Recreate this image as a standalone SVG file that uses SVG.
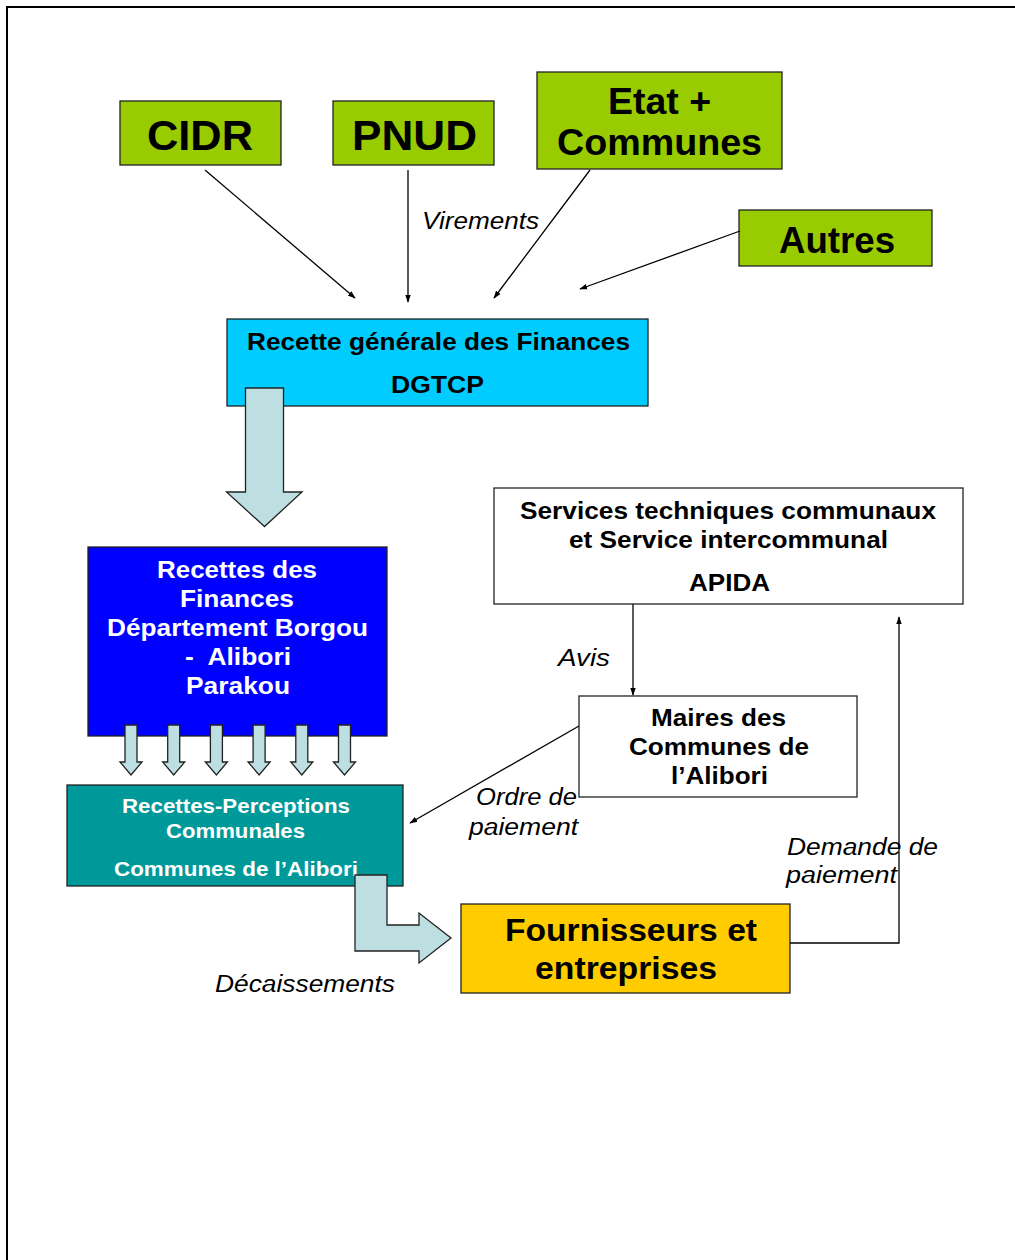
<svg xmlns="http://www.w3.org/2000/svg" width="1015" height="1260" viewBox="0 0 1015 1260">
<defs>
<style>
text{font-family:"Liberation Sans",Arial,sans-serif;}
.b{font-weight:bold;text-anchor:middle;fill:#000;}
.w{font-weight:bold;text-anchor:middle;fill:#fff;}
.lbl{font-style:italic;font-size:23px;fill:#000;}
.box{stroke:#222;stroke-width:1.3;}
.green{fill:#99CC00;}
.con{stroke:#000;stroke-width:1.3;fill:none;}
.blk{fill:#BDDFE1;stroke:#222;stroke-width:1.3;stroke-linejoin:miter;}
</style>
<marker id="ah" viewBox="0 0 10 10" refX="9" refY="5" markerWidth="8" markerHeight="8" markerUnits="userSpaceOnUse" orient="auto">
<path d="M0,1.5 L10,5 L0,8.5 Z" fill="#000"/>
</marker>
</defs>
<rect width="1015" height="1260" fill="#fff"/>
<path d="M7,1260 L7,7 L1015,7" fill="none" stroke="#000" stroke-width="2"/>

<g id="cidr"><rect class="box green" x="120" y="101" width="161" height="64"/><text class="b" x="200" y="150" font-size="42" textLength="106" lengthAdjust="spacingAndGlyphs">CIDR</text></g>
<g id="pnud"><rect class="box green" x="333" y="101" width="161" height="64"/><text class="b" x="414.5" y="150" font-size="42" textLength="125" lengthAdjust="spacingAndGlyphs">PNUD</text></g>
<g id="etat"><rect class="box green" x="537" y="72" width="245" height="97"/><text class="b" x="659.5" y="114" font-size="36" textLength="103" lengthAdjust="spacingAndGlyphs">Etat +</text><text class="b" x="659.5" y="155" font-size="36" textLength="205" lengthAdjust="spacingAndGlyphs">Communes</text></g>
<g id="autres"><rect class="box green" x="739" y="210" width="193" height="56"/><text class="b" x="837" y="253" font-size="36" textLength="116" lengthAdjust="spacingAndGlyphs">Autres</text></g>

<g id="recette"><rect class="box" x="227" y="319" width="421" height="87" fill="#00CCFF"/><text class="b" x="438.5" y="350" font-size="23" textLength="383" lengthAdjust="spacingAndGlyphs">Recette générale des Finances</text><text class="b" x="437.5" y="393" font-size="23" textLength="93" lengthAdjust="spacingAndGlyphs">DGTCP</text></g>

<g id="services"><rect class="box" x="494" y="488" width="469" height="116" fill="#fff"/><text class="b" x="728" y="519" font-size="23" textLength="416" lengthAdjust="spacingAndGlyphs">Services techniques communaux</text><text class="b" x="728.5" y="548" font-size="23" textLength="319" lengthAdjust="spacingAndGlyphs">et Service intercommunal</text><text class="b" x="729.5" y="591" font-size="23" textLength="81" lengthAdjust="spacingAndGlyphs">APIDA</text></g>

<g id="rf"><rect class="box" x="88" y="547" width="299" height="189" fill="#0000FF"/>
<text class="w" x="237" y="578" font-size="23" textLength="160" lengthAdjust="spacingAndGlyphs">Recettes des</text>
<text class="w" x="237" y="607" font-size="23" textLength="114" lengthAdjust="spacingAndGlyphs">Finances</text>
<text class="w" x="237.5" y="636" font-size="23" textLength="261" lengthAdjust="spacingAndGlyphs">Département Borgou</text>
<text class="w" x="238" y="665" font-size="23" textLength="106" lengthAdjust="spacingAndGlyphs" xml:space="preserve">-  Alibori</text>
<text class="w" x="238" y="694" font-size="23" textLength="104" lengthAdjust="spacingAndGlyphs">Parakou</text></g>

<g id="maires"><rect class="box" x="579" y="696" width="278" height="101" fill="#fff"/><text class="b" x="718.5" y="726" font-size="23" textLength="135" lengthAdjust="spacingAndGlyphs">Maires des</text><text class="b" x="719" y="755" font-size="23" textLength="180" lengthAdjust="spacingAndGlyphs">Communes de</text><text class="b" x="719.5" y="784" font-size="23" textLength="97" lengthAdjust="spacingAndGlyphs">l’Alibori</text></g>

<g id="rp"><rect class="box" x="67" y="785" width="336" height="101" fill="#009999"/><text class="w" x="236" y="813" font-size="21" textLength="228" lengthAdjust="spacingAndGlyphs">Recettes-Perceptions</text><text class="w" x="235.5" y="838" font-size="21" textLength="139" lengthAdjust="spacingAndGlyphs">Communales</text><text class="w" x="236" y="876" font-size="21" textLength="244" lengthAdjust="spacingAndGlyphs">Communes de l’Alibori</text></g>

<g id="fournisseurs"><rect class="box" x="461" y="904" width="329" height="89" fill="#FFCC00"/><text class="b" x="631" y="941" font-size="32" textLength="252" lengthAdjust="spacingAndGlyphs">Fournisseurs et</text><text class="b" x="626" y="979" font-size="32" textLength="182" lengthAdjust="spacingAndGlyphs">entreprises</text></g>

<g id="connectors">
<line class="con" x1="205" y1="170" x2="355" y2="298" marker-end="url(#ah)"/>
<line class="con" x1="408" y1="170" x2="408" y2="302" marker-end="url(#ah)"/>
<line class="con" x1="590" y1="170" x2="494" y2="298" marker-end="url(#ah)"/>
<line class="con" x1="740" y1="231" x2="580" y2="289" marker-end="url(#ah)"/>
<line class="con" x1="633" y1="604" x2="633" y2="695" marker-end="url(#ah)"/>
<line class="con" x1="579" y1="726" x2="410" y2="823" marker-end="url(#ah)"/>
<polyline class="con" points="790,943 899,943 899,617" marker-end="url(#ah)"/>
<path class="blk" d="M245.5,388 L283.5,388 L283.5,492 L302,492 L264.5,526.5 L226.5,492 L245.5,492 Z"/>
<g id="small-arrows">
<path class="blk" d="M125,725 L137,725 L137,762 L142,762 L131,775 L120,762 L125,762 Z"/>
<path class="blk" d="M125,725 L137,725 L137,762 L142,762 L131,775 L120,762 L125,762 Z" transform="translate(42.7,0)"/>
<path class="blk" d="M125,725 L137,725 L137,762 L142,762 L131,775 L120,762 L125,762 Z" transform="translate(85.4,0)"/>
<path class="blk" d="M125,725 L137,725 L137,762 L142,762 L131,775 L120,762 L125,762 Z" transform="translate(128.1,0)"/>
<path class="blk" d="M125,725 L137,725 L137,762 L142,762 L131,775 L120,762 L125,762 Z" transform="translate(170.8,0)"/>
<path class="blk" d="M125,725 L137,725 L137,762 L142,762 L131,775 L120,762 L125,762 Z" transform="translate(213.5,0)"/>
</g>
<path class="blk" d="M355,875 L387,875 L387,925 L419,925 L419,913 L451,938 L419,963 L419,951 L355,951 Z"/>
<text class="lbl" x="422" y="229" textLength="117" lengthAdjust="spacingAndGlyphs">Virements</text>
<text class="lbl" x="558" y="666" textLength="52" lengthAdjust="spacingAndGlyphs">Avis</text>
<text class="lbl" x="476" y="805" textLength="101" lengthAdjust="spacingAndGlyphs">Ordre de</text>
<text class="lbl" x="469" y="835" textLength="109" lengthAdjust="spacingAndGlyphs">paiement</text>
<text class="lbl" x="787" y="855" textLength="151" lengthAdjust="spacingAndGlyphs">Demande de</text>
<text class="lbl" x="786" y="883" textLength="111" lengthAdjust="spacingAndGlyphs">paiement</text>
<text class="lbl" x="215" y="992" textLength="180" lengthAdjust="spacingAndGlyphs">Décaissements</text>
</g>
</svg>
